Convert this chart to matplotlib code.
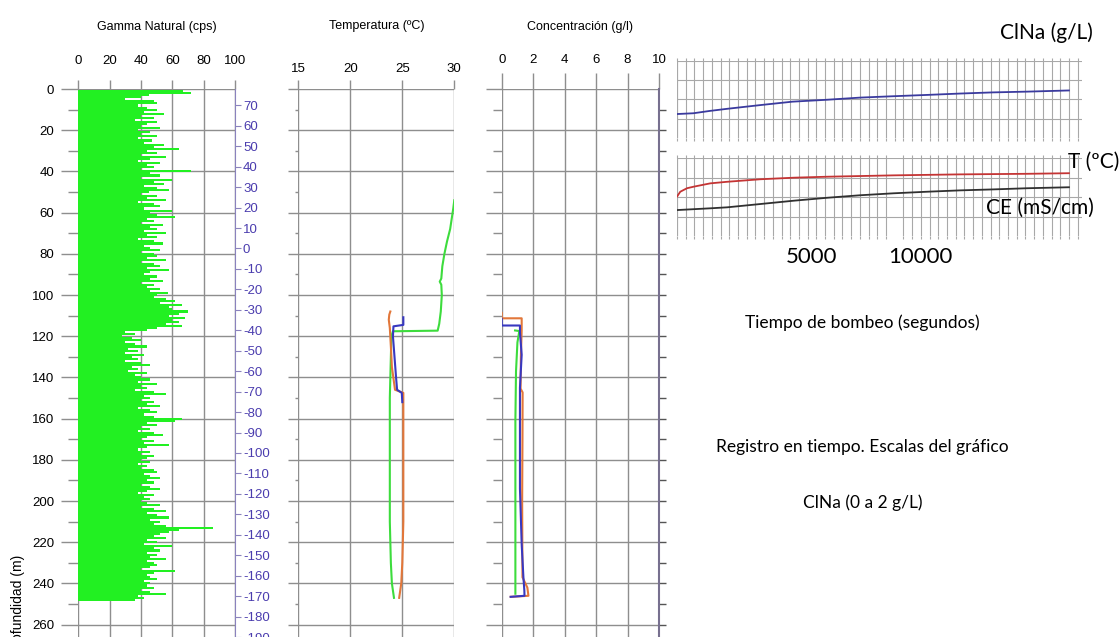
import numpy as np
import matplotlib
matplotlib.use("Agg")
import matplotlib.pyplot as plt
from matplotlib.ticker import MultipleLocator, FixedLocator, NullFormatter
from matplotlib.transforms import ScaledTranslation

plt.rcParams['axes.unicode_minus'] = False
plt.rcParams['font.family'] = ['Liberation Sans', 'DejaVu Sans']

# ---------------- data ----------------
# Gamma natural (cps), one value per metre from 1 m to 248 m
gamma_cps = [
    67, 72, 45, 40, 30, 48, 50, 38, 44, 50,
    42, 55, 40, 48, 36, 50, 44, 40, 52, 38,
    46, 40, 50, 38, 47, 42, 55, 48, 64, 44,
    50, 40, 56, 46, 38, 52, 44, 48, 40, 72,
    46, 52, 40, 60, 48, 55, 42, 50, 58, 45,
    40, 50, 44, 56, 38, 48, 52, 42, 60, 46,
    50, 62, 44, 48, 40, 54, 46, 50, 42, 56,
    44, 50, 38, 48, 54, 42, 46, 52, 40, 48,
    50, 44, 56, 40, 48, 52, 44, 58, 46, 42,
    50, 46, 54, 40, 48, 44, 52, 46, 57, 50,
    48, 56, 62, 52, 66, 58, 60, 70, 64, 58,
    68, 60, 64, 56, 66, 50, 44, 30, 36, 28,
    34, 40, 30, 36, 44, 32, 38, 30, 42, 34,
    38, 30, 40, 46, 34, 38, 32, 44, 36, 40,
    46, 38, 50, 40, 44, 36, 48, 56, 42, 46,
    40, 48, 44, 52, 38, 46, 50, 42, 48, 66,
    62, 44, 50, 40, 46, 38, 48, 54, 44, 40,
    48, 42, 58, 44, 38, 46, 40, 48, 44, 40,
    46, 38, 44, 40, 48, 50, 42, 46, 52, 44,
    48, 40, 46, 52, 44, 38, 48, 42, 46, 40,
    44, 52, 40, 48, 56, 44, 50, 58, 46, 52,
    48, 56, 86, 64, 58, 52, 48, 56, 44, 50,
    42, 60, 48, 52, 44, 50, 46, 56, 44, 48,
    50, 46, 40, 62, 48, 44, 46, 50, 42, 46,
    44, 48, 40, 46, 56, 38, 42, 36,
]
gamma_depth = np.arange(1, len(gamma_cps) + 1)

# Temperature logs (ºC) vs depth (m)
temp_green_depth = [54, 58, 63, 68, 74, 80, 86, 92, 93.5, 95, 100, 108, 114, 117.3, 117.6, 120, 130, 150, 180, 210, 230, 240, 247]
temp_green_val = [30.0, 29.9, 29.75, 29.6, 29.3, 29.05, 28.85, 28.75, 28.6, 28.75, 28.8, 28.7, 28.55, 28.4, 24.1, 23.95, 23.9, 23.8, 23.8, 23.8, 23.9, 24.0, 24.2]
temp_orange_depth = [108, 109.5, 112, 116, 125, 135, 146, 147.5, 150, 180, 210, 230, 240, 247]
temp_orange_val = [23.85, 23.75, 23.7, 23.8, 23.9, 24.0, 24.3, 25.1, 25.1, 25.1, 25.1, 25.0, 24.9, 24.7]
temp_blue_depth = [110.8, 114.5, 115.2, 120, 130, 140, 146, 147.5, 152]
temp_blue_val = [25.1, 25.1, 24.15, 24.1, 24.25, 24.4, 24.5, 24.95, 25.0]

# Concentration logs (g/l) vs depth (m)
conc_orange_depth = [108.7, 111.3, 111.3, 117.2, 130, 145.4, 147.3, 170, 200, 237, 242, 246, 246.5]
conc_orange_val = [0.0, 0.0, 1.27, 1.27, 1.22, 1.2, 1.33, 1.32, 1.3, 1.32, 1.63, 1.7, 0.57]
conc_blue_depth = [111.6, 114.8, 114.8, 118, 129, 145, 194, 221, 237, 243.5, 246, 246.5]
conc_blue_val = [0.0, 0.0, 1.16, 1.16, 1.27, 1.16, 1.16, 1.27, 1.38, 1.44, 1.45, 0.57]
conc_green_depth = [117.2, 117.5, 123, 137, 161, 245]
conc_green_val = [0.85, 1.12, 1.0, 0.91, 0.87, 0.87]

# Time records (pumping time, s)
clna_time = [0, 750, 1500, 2300, 3800, 5300, 6900, 8400, 9900, 11500, 13000, 14500, 16100, 18000]
clna_val = [0.62, 0.64, 0.70, 0.755, 0.85, 0.94, 0.99, 1.045, 1.08, 1.115, 1.15, 1.18, 1.20, 1.23]
t_time = [0, 150, 460, 770, 1530, 2300, 3830, 5360, 6890, 9950, 13000, 16100, 18000]
t_val = [2.02, 2.27, 2.45, 2.53, 2.70, 2.78, 2.91, 2.99, 3.04, 3.11, 3.16, 3.19, 3.22]
ce_time = [0, 1530, 2300, 3830, 5360, 6890, 8420, 9950, 11480, 13000, 14540, 16100, 18000]
ce_val = [1.33, 1.42, 1.47, 1.64, 1.81, 1.96, 2.09, 2.19, 2.27, 2.34, 2.39, 2.45, 2.50]

gamma_ticks = [0, 20, 40, 60, 80, 100]
temp_ticks = [15, 20, 25, 30]
conc_ticks = [0, 2, 4, 6, 8, 10]
depth_major = list(range(0, 261, 20))
depth_minor = list(range(10, 261, 20))
elev_ticks = list(range(70, -191, -10))
elev_offset = 78

# ---------------- layout ----------------
W, H = 1119, 637
fig = plt.figure(figsize=(W / 100, H / 100), dpi=100)


def rect(l, t, r, b):
    return [l / W, 1 - b / H, (r - l) / W, (b - t) / H]


def px(p):
    return p * 0.72


GC = '#8e8e8e'
PURPLE = '#4a3cae'
DEPTH_MAX = 266


def depth_panel(r, xlim, xticks, xt_len, xt_pad, yt_len, ymt_len):
    ax = fig.add_axes(r)
    ax.set_xlim(*xlim)
    ax.set_ylim(DEPTH_MAX, 0)
    for s in ax.spines.values():
        s.set_visible(False)
    ax.xaxis.set_ticks_position('top')
    ax.set_xticks(xticks)
    ax.set_yticks(depth_major)
    ax.yaxis.set_minor_locator(FixedLocator(depth_minor))
    ax.tick_params(axis='x', which='major', length=px(xt_len), pad=px(xt_pad), color=GC,
                   width=1, labelsize=9.5, top=True, bottom=False)
    ax.tick_params(axis='y', which='major', length=px(yt_len), color=GC, width=1, labelsize=9.5, pad=px(7))
    ax.tick_params(axis='y', which='minor', length=px(ymt_len), color=GC, width=1)
    ax.grid(True, which='major', color=GC, lw=1)
    return ax


# Gamma panel
ax1 = depth_panel(rect(78.3, 89, 235, 637), (0, 100), gamma_ticks, 9, 13, 17, 10)
ax1.set_axisbelow(True)
ax1.barh(gamma_depth, gamma_cps, height=1.0, left=0, color='#22f022', linewidth=0, zorder=2)
ax1r = ax1.twinx()
ax1r.set_ylim(elev_offset - DEPTH_MAX, elev_offset)
for k, s in ax1r.spines.items():
    s.set_visible(k == 'right')
ax1r.spines['right'].set_color('#8a82bd')
ax1r.set_yticks(elev_ticks)
ax1r.tick_params(axis='y', length=px(6), pad=px(2), color='#8a82bd', labelcolor=PURPLE, labelsize=9.5)
ax1.set_title('Gamma Natural (cps)', fontsize=9, pad=0, y=1 + (89 - 33) / (637 - 89), va='bottom')
fig.text(18 / W, 1 - 555 / H, 'Profundidad (m)', rotation=90, va='top', ha='center', fontsize=10)

# Temperature panel
ax2 = depth_panel(rect(298.3, 89, 454.3, 637), (15, 30), temp_ticks, 9, 5, 10, 3.5)
ax2.set_yticklabels([])
ax2.plot(temp_green_val, temp_green_depth, color='#3ddc3d', lw=1.5, zorder=3)
ax2.plot(temp_orange_val, temp_orange_depth, color='#e2773a', lw=1.5, zorder=3)
ax2.plot(temp_blue_val, temp_blue_depth, color='#3838c0', lw=1.5, zorder=4)
ax2.set_title('Temperatura (ºC)', fontsize=9, pad=0, y=1 + (89 - 32) / (637 - 89), va='bottom')

# Concentration panel
ax3 = depth_panel(rect(501.7, 89, 659, 637), (0, 10), conc_ticks, 16, 7, 16, 8.7)
ax3.set_yticklabels([])
ax3.plot(conc_green_val, conc_green_depth, color='#3ddc3d', lw=1.5, zorder=3)
ax3.plot(conc_orange_val, conc_orange_depth, color='#e2773a', lw=1.5, zorder=3)
ax3.plot(conc_blue_val, conc_blue_depth, color='#3838c0', lw=1.5, zorder=4)
ax3.set_title('Concentración (g/l)', fontsize=9, pad=0, y=1 + (89 - 33) / (637 - 89), va='bottom')
ax3r = ax3.twinx()
ax3r.set_ylim(DEPTH_MAX, 0)
for k, s in ax3r.spines.items():
    s.set_visible(k == 'right')
ax3r.spines['right'].set_color('#77708f')
ax3r.spines['right'].set_linewidth(1.5)
ax3r.set_yticks(list(range(10, 261, 10)))
ax3r.set_yticklabels([])
ax3r.tick_params(axis='y', length=px(7), color='#555555', width=1)

# ---------------- time-record charts ----------------
RGC = '#a8a8a8'


def time_panel(r, ymax, ystep):
    ax = fig.add_axes(r)
    ax.set_xlim(0, 18600)
    ax.set_ylim(0, ymax)
    for s in ax.spines.values():
        s.set_visible(False)
    ax.xaxis.set_minor_locator(MultipleLocator(400))
    ax.xaxis.set_minor_formatter(NullFormatter())
    ax.set_yticks(np.arange(ystep, ymax + 1e-9, ystep))
    ax.set_yticklabels([])
    ax.tick_params(axis='y', length=0)
    ax.set_xticks([])
    ax.tick_params(axis='x', which='minor', length=px(3), color=RGC, top=True, bottom=True, width=0.8)
    ax.grid(True, which='minor', axis='x', color=RGC, lw=0.8)
    ax.grid(True, which='major', axis='y', color=RGC, lw=0.8)
    ax.axvline(0, color=RGC, lw=0.8)
    return ax


axT = time_panel(rect(677, 60.7, 1082, 138), 2, 0.5)
axT.plot(clna_time, clna_val, color='#3a3a9e', lw=1.3, zorder=3)

axB = time_panel(rect(677, 158, 1082, 236), 4, 1)
axB.plot(t_time, t_val, color='#c43434', lw=1.3, zorder=3)
axB.plot(ce_time, ce_val, color='#303030', lw=1.3, zorder=3)
axB.set_xticks([5000, 10000])
axB.set_xticklabels(['5000', '10000'], fontsize=16, family=['Lato', 'DejaVu Sans'])
axB.tick_params(axis='x', which='major', length=0, pad=px(11))
off = ScaledTranslation(26 / 100, 0, fig.dpi_scale_trans)
for lbl in axB.get_xticklabels():
    lbl.set_transform(lbl.get_transform() + off)

RF = ['Lato', 'DejaVu Sans']
fig.text(1046 / W, 1 - 33 / H, 'ClNa (g/L)', fontsize=15, family=RF, ha='center', va='center')
fig.text(1119 / W, 1 - 162 / H, 'T (ºC)', fontsize=15, family=RF, ha='right', va='center')
fig.text(1040 / W, 1 - 208 / H, 'CE (mS/cm)', fontsize=15, family=RF, ha='center', va='center')
fig.text(862 / W, 1 - 323 / H, 'Tiempo de bombeo (segundos)', fontsize=12.5, family=RF, ha='center', va='center')
fig.text(862 / W, 1 - 447 / H, 'Registro en tiempo. Escalas del gráfico', fontsize=12.5, family=RF, ha='center', va='center')
fig.text(863 / W, 1 - 503 / H, 'ClNa (0 a 2 g/L)', fontsize=12.5, family=RF, ha='center', va='center')

fig.savefig('out.png', dpi=100)
